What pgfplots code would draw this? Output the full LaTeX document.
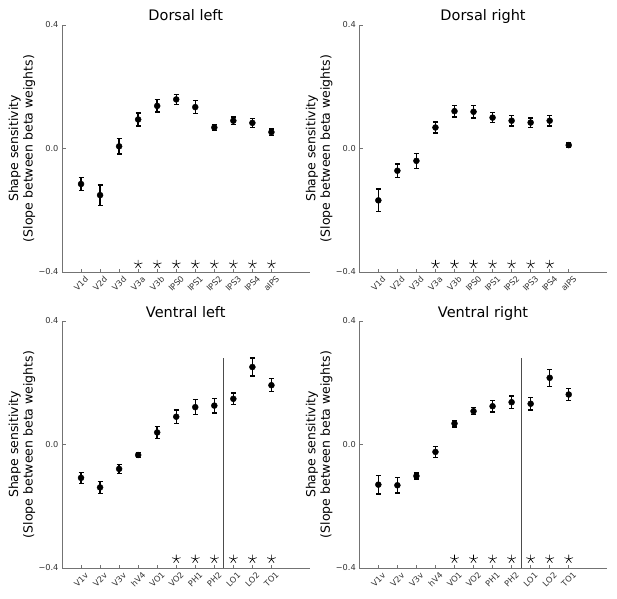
\documentclass[border=0pt]{standalone}
\usepackage{fontspec}
\setmainfont{DejaVu Sans}
\usepackage{pgfplots}
\pgfplotsset{compat=1.18}
\pgfplotsset{
 panel/.style={
  scale only axis, width=247.5pt, height=247pt,
  xmin=-1, xmax=12, ymin=-0.4, ymax=0.4,
  axis x line*=bottom, axis y line*=left,
  axis line style={black!55, line width=0.9pt},
  tick style={black!55, line width=0.7pt},
  tick align=inside, major tick length=3.5pt,
  xtick={0,...,10}, ytick={-0.4,0,0.4},
  yticklabels={−0.4,0.0,0.4},
  tick label style={font=\fontsize{8.2}{9}\selectfont, text=black!80},
  xticklabel style={yshift=-11.5pt, rotate=45, anchor=center},
  ylabel={Shape sensitivity\\(Slope between beta weights)},
  ylabel style={at={(axis description cs:-0.162,0.5)}, anchor=center, align=center, font=\fontsize{12.5}{14.5}\selectfont},
  title style={at={(axis description cs:0.5,1)}, anchor=base, yshift=-2pt, font=\fontsize{14.5}{17}\selectfont},
  clip=false,
 },
 dots/.style={black, only marks, mark=*, mark size=3pt,
  error bars/.cd, y dir=both, y explicit,
  error bar style={line width=1.4pt, black},
  error mark options={rotate=90, mark size=2.5pt, line width=1.2pt, black}},
 stars/.style={black, only marks, mark=star, mark size=4.5pt, mark options={line width=0.6pt}},
}
\begin{document}
\begin{tikzpicture}
\useasboundingbox (0,0) rectangle (617pt,598pt);
% Dorsal left
\begin{axis}[panel, at={(62pt,326pt)}, anchor=south west, title={Dorsal left},
  xticklabels={V1d,V2d,V3d,V3a,V3b,IPS0,IPS1,IPS2,IPS3,IPS4,aIPS}]
\addplot[dots] coordinates {
(0,-0.115) +- (0,0.020)
(1,-0.151) +- (0,0.033)
(2,0.007) +- (0,0.025)
(3,0.094) +- (0,0.021)
(4,0.138) +- (0,0.020)
(5,0.159) +- (0,0.017)
(6,0.134) +- (0,0.021)
(7,0.068) +- (0,0.010)
(8,0.090) +- (0,0.012)
(9,0.083) +- (0,0.014)
(10,0.053) +- (0,0.010)
};
\addplot[stars] coordinates {(3,-0.375) (4,-0.375) (5,-0.375) (6,-0.375) (7,-0.375) (8,-0.375) (9,-0.375) (10,-0.375)};
\end{axis}
% Dorsal right
\begin{axis}[panel, at={(359.3pt,326pt)}, anchor=south west, title={Dorsal right},
  xticklabels={V1d,V2d,V3d,V3a,V3b,IPS0,IPS1,IPS2,IPS3,IPS4,aIPS}]
\addplot[dots] coordinates {
(0,-0.168) +- (0,0.037)
(1,-0.072) +- (0,0.022)
(2,-0.040) +- (0,0.025)
(3,0.068) +- (0,0.018)
(4,0.121) +- (0,0.019)
(5,0.119) +- (0,0.020)
(6,0.100) +- (0,0.017)
(7,0.090) +- (0,0.017)
(8,0.084) +- (0,0.015)
(9,0.090) +- (0,0.017)
(10,0.011) +- (0,0.007)
};
\addplot[stars] coordinates {(3,-0.375) (4,-0.375) (5,-0.375) (6,-0.375) (7,-0.375) (8,-0.375) (9,-0.375)};
\end{axis}
% Ventral left
\begin{axis}[panel, at={(62pt,30pt)}, anchor=south west, title={Ventral left},
  xticklabels={V1v,V2v,V3v,hV4,VO1,VO2,PH1,PH2,LO1,LO2,TO1}]
\addplot[black!70, line width=1pt] coordinates {(7.5,-0.4) (7.5,0.28)};
\addplot[dots] coordinates {
(0,-0.108) +- (0,0.018)
(1,-0.139) +- (0,0.019)
(2,-0.079) +- (0,0.015)
(3,-0.034) +- (0,0.007)
(4,0.039) +- (0,0.019)
(5,0.090) +- (0,0.022)
(6,0.121) +- (0,0.025)
(7,0.126) +- (0,0.024)
(8,0.148) +- (0,0.019)
(9,0.251) +- (0,0.029)
(10,0.192) +- (0,0.021)
};
\addplot[stars] coordinates {(5,-0.371) (6,-0.371) (7,-0.371) (8,-0.371) (9,-0.371) (10,-0.371)};
\end{axis}
% Ventral right
\begin{axis}[panel, at={(359.3pt,30pt)}, anchor=south west, title={Ventral right},
  xticklabels={V1v,V2v,V3v,hV4,VO1,VO2,PH1,PH2,LO1,LO2,TO1}]
\addplot[black!70, line width=1pt] coordinates {(7.5,-0.4) (7.5,0.28)};
\addplot[dots] coordinates {
(0,-0.130) +- (0,0.030)
(1,-0.132) +- (0,0.025)
(2,-0.102) +- (0,0.010)
(3,-0.024) +- (0,0.017)
(4,0.068) +- (0,0.011)
(5,0.108) +- (0,0.011)
(6,0.124) +- (0,0.019)
(7,0.137) +- (0,0.020)
(8,0.132) +- (0,0.020)
(9,0.216) +- (0,0.027)
(10,0.162) +- (0,0.019)
};
\addplot[stars] coordinates {(4,-0.371) (5,-0.371) (6,-0.371) (7,-0.371) (8,-0.371) (9,-0.371) (10,-0.371)};
\end{axis}
\end{tikzpicture}
\end{document}
